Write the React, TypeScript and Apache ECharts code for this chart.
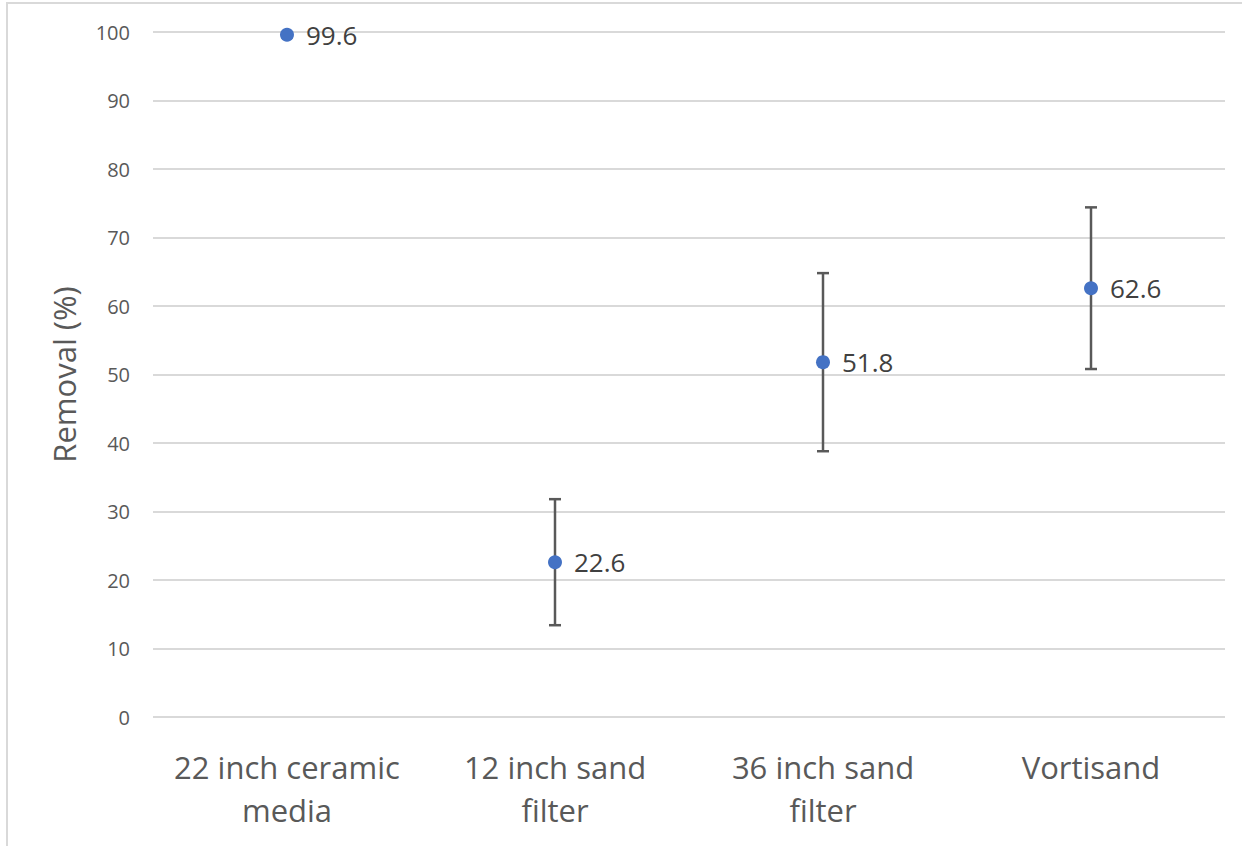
import React, { useEffect, useRef } from "react";
import * as echarts from "echarts";

const categories = ["22 inch ceramic\nmedia", "12 inch sand\nfilter", "36 inch sand\nfilter", "Vortisand"];
const removal = [99.6, 22.6, 51.8, 62.6];
const errorMargin = [0, 9.2, 13.0, 11.8];
const yTicks = { min: 0, max: 100, interval: 10 };

const FONT = "'Open Sans', 'Noto Sans', sans-serif";

export default function App() {
  const ref = useRef<HTMLDivElement>(null);
  useEffect(() => {
    const chart = echarts.init(ref.current!, null, { renderer: "svg" });
    const errData = removal.map((v, i) => [i, v - errorMargin[i], v + errorMargin[i]]);
    chart.setOption({
      animation: false,
      backgroundColor: "#ffffff",
      graphic: [
        {
          type: "rect",
          shape: { x: 7, y: 3, width: 1400, height: 1000 },
          style: { fill: "none", stroke: "#d9d9d9", lineWidth: 2 },
          silent: true,
          z: -10,
        },
      ],
      grid: { left: 153, right: 17, top: 32, bottom: 129 },
      xAxis: {
        type: "category",
        data: categories,
        boundaryGap: true,
        axisLine: { show: false },
        axisTick: { show: false },
        axisLabel: {
          fontSize: 31,
          color: "#595959",
          fontFamily: FONT,
          lineHeight: 43,
          margin: 28,
          interval: 0,
        },
      },
      yAxis: {
        type: "value",
        min: yTicks.min,
        max: yTicks.max,
        interval: yTicks.interval,
        name: "Removal (%)",
        nameLocation: "middle",
        nameGap: 74,
        nameTextStyle: { fontSize: 31, color: "#595959", fontFamily: FONT },
        axisLine: { show: false },
        axisTick: { show: false },
        axisLabel: { fontSize: 20, color: "#595959", fontFamily: FONT, margin: 23 },
        splitLine: { lineStyle: { color: "#d9d9d9", width: 2 } },
      },
      series: [
        {
          type: "custom",
          z: 2,
          data: errData,
          renderItem: (params: any, api: any) => {
            if (errorMargin[params.dataIndex] === 0) return { type: "group", children: [] };
            const lo = api.coord([api.value(0), api.value(1)]);
            const hi = api.coord([api.value(0), api.value(2)]);
            const hw = 6;
            const style = { stroke: "#595959", lineWidth: 2.5 };
            return {
              type: "group",
              children: [
                { type: "line", shape: { x1: lo[0], y1: lo[1], x2: hi[0], y2: hi[1] }, style },
                { type: "line", shape: { x1: lo[0] - hw, y1: lo[1], x2: lo[0] + hw, y2: lo[1] }, style },
                { type: "line", shape: { x1: hi[0] - hw, y1: hi[1], x2: hi[0] + hw, y2: hi[1] }, style },
              ],
            };
          },
        },
        {
          type: "scatter",
          z: 3,
          data: removal,
          symbol: "circle",
          symbolSize: 14,
          itemStyle: { color: "#4472C4", opacity: 1 },
          label: {
            show: true,
            position: "right",
            distance: 12,
            fontSize: 26,
            color: "#404040",
            fontFamily: FONT,
            formatter: (p: any) => Number(p.value).toFixed(1),
          },
        },
      ],
    });
    return () => chart.dispose();
  }, []);
  return (
    <div
      ref={ref}
      style={{ position: "absolute", left: 0, top: 0, width: 1242, height: 846 }}
    />
  );
}
